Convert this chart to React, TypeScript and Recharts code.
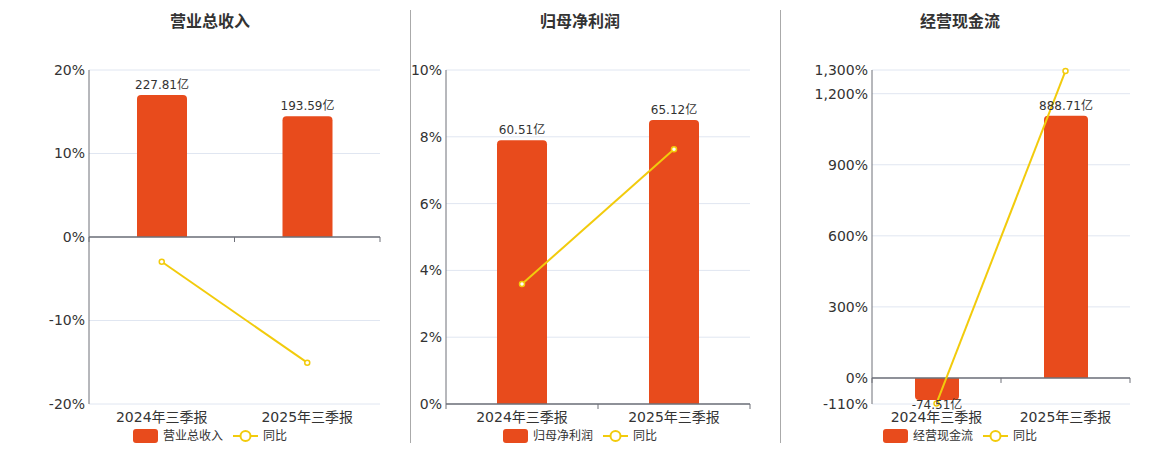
import React from 'react'
import { ComposedChart, Bar, Line, XAxis, YAxis, CartesianGrid, ReferenceLine, LabelList } from 'recharts'

const periods = ['2024年三季报', '2025年三季报']

const revenueValues = [227.81, 193.59]
const revenueYoY = [-2.96, -15.05]
const revenueTicks = [-20, -10, 0, 10, 20]

const profitValues = [60.51, 65.12]
const profitYoY = [3.59, 7.63]
const profitTicks = [0, 2, 4, 6, 8, 10]

const cashValues = [-74.51, 888.71]
const cashYoY = [-107.5, 1296]
const cashTicks = [-110, 0, 300, 600, 900, 1200, 1300]

const BAR_COLOR = '#E84B1C'
const LINE_COLOR = '#F2CB0C'
const AXIS_COLOR = '#6E7079'
const FONT = "'DejaVu Sans', 'Noto Sans CJK SC', sans-serif"

function ZeroAxis(props: any) {
  const { x1, x2, y1 } = props
  const mid = (x1 + x2) / 2
  return (
    <g>
      <line x1={x1} x2={x2} y1={y1} y2={y1} stroke={AXIS_COLOR} strokeWidth={1.5} />
      {[x1, mid, x2].map((x, i) => (
        <line key={i} x1={x} x2={x} y1={y1} y2={y1 + 5} stroke={AXIS_COLOR} strokeWidth={1} />
      ))}
    </g>
  )
}

// value label: above positive bars, just under negative ones
function ValueLabel(props: any) {
  const { x, y, width, height, value } = props
  const top = Math.min(y, y + height)
  const bottom = Math.max(y, y + height)
  const cx = x + width / 2
  if (value >= 0) {
    return (
      <text x={cx} y={top - 6} textAnchor="middle" fontSize={12} fill="#333">{`${value}亿`}</text>
    )
  }
  return (
    <text x={cx} y={bottom + 9} textAnchor="middle" fontSize={12} fill="#333">{`${value}亿`}</text>
  )
}

interface PanelProps {
  left: number
  width: number
  yWidth: number
  title: string
  titleX: number
  legendX: number
  seriesName: string
  values: number[]
  yoy: number[]
  ticks: number[]
  barDomain: [number, number]
  barSize: number
}

function Panel({ left, width, yWidth, title, titleX, legendX, seriesName, values, yoy, ticks, barDomain, barSize }: PanelProps) {
  const data = periods.map((p, i) => ({ name: p, value: values[i], yoy: yoy[i] }))
  return (
    <>
      <div
        style={{
          position: 'absolute', top: 12, left: titleX - 60, width: 120, textAlign: 'center',
          fontSize: 16, fontWeight: 'bold', color: '#333', lineHeight: '20px',
        }}
      >
        {title}
      </div>
      <div style={{ position: 'absolute', top: 0, left }}>
        <ComposedChart width={width} height={450} data={data} margin={{ top: 70, right: 30, left: 0, bottom: 16 }}>
          <CartesianGrid yAxisId="pct" vertical={false} stroke="#E0E6F1" />
          <XAxis
            dataKey="name"
            axisLine={false}
            tickLine={false}
            interval={0}
            height={30}
            tick={{ fontSize: 14, fill: '#333' }}
          />
          <YAxis
            yAxisId="pct"
            width={yWidth}
            domain={[ticks[0], ticks[ticks.length - 1]]}
            ticks={ticks}
            interval={0}
            allowDataOverflow
            stroke={AXIS_COLOR}
            tickLine={false}
            tickSize={2}
            tickMargin={2}
            tick={{ fontSize: 14, fill: '#333' }}
            tickFormatter={(v: number) => `${v.toLocaleString('en-US')}%`}
          />
          <YAxis yAxisId="bar" orientation="right" hide width={0} domain={barDomain} allowDataOverflow />
          <ReferenceLine yAxisId="pct" y={0} shape={ZeroAxis} />
          <Bar yAxisId="bar" dataKey="value" fill={BAR_COLOR} barSize={barSize} radius={[4, 4, 0, 0]} isAnimationActive={false}>
            <LabelList dataKey="value" content={ValueLabel} />
          </Bar>
          <Line
            yAxisId="pct"
            dataKey="yoy"
            stroke={LINE_COLOR}
            strokeWidth={2}
            dot={{ r: 2.5, fill: '#fff', stroke: LINE_COLOR, strokeWidth: 1.5, clipDot: false }}
            isAnimationActive={false}
          />
        </ComposedChart>
      </div>
      <div style={{ position: 'absolute', top: 429, left: legendX, display: 'flex', alignItems: 'center', fontSize: 12, color: '#333', lineHeight: '14px' }}>
        <span style={{ width: 25, height: 14, background: BAR_COLOR, borderRadius: 3, display: 'inline-block' }} />
        <span style={{ marginLeft: 5 }}>{seriesName}</span>
        <svg width={25} height={14} style={{ marginLeft: 10 }}>
          <line x1={0} x2={25} y1={7} y2={7} stroke={LINE_COLOR} strokeWidth={2} />
          <circle cx={12.5} cy={7} r={5} fill="#fff" stroke={LINE_COLOR} strokeWidth={2} />
        </svg>
        <span style={{ marginLeft: 5 }}>同比</span>
      </div>
    </>
  )
}

export default function App() {
  return (
    <div style={{ position: 'absolute', top: 0, left: 0, width: 1160, height: 450, background: '#fff', fontFamily: FONT }}>
      <Panel
        left={0} width={410} yWidth={89} title="营业总收入" titleX={210} legendX={133}
        seriesName="营业总收入" values={revenueValues} yoy={revenueYoY} ticks={revenueTicks}
        barDomain={[-268, 268]} barSize={50}
      />
      <Panel
        left={410} width={370} yWidth={36} title="归母净利润" titleX={580} legendX={503}
        seriesName="归母净利润" values={profitValues} yoy={profitYoY} ticks={profitTicks}
        barDomain={[0, 76.6]} barSize={50}
      />
      <Panel
        left={780} width={380} yWidth={92} title="经营现金流" titleX={960} legendX={883}
        seriesName="经营现金流" values={cashValues} yoy={cashYoY} ticks={cashTicks}
        barDomain={[-88.4, 1044]} barSize={44}
      />
      <div style={{ position: 'absolute', left: 410, top: 10, width: 1, height: 433, background: '#aaa' }} />
      <div style={{ position: 'absolute', left: 780, top: 10, width: 1, height: 433, background: '#aaa' }} />
    </div>
  )
}
